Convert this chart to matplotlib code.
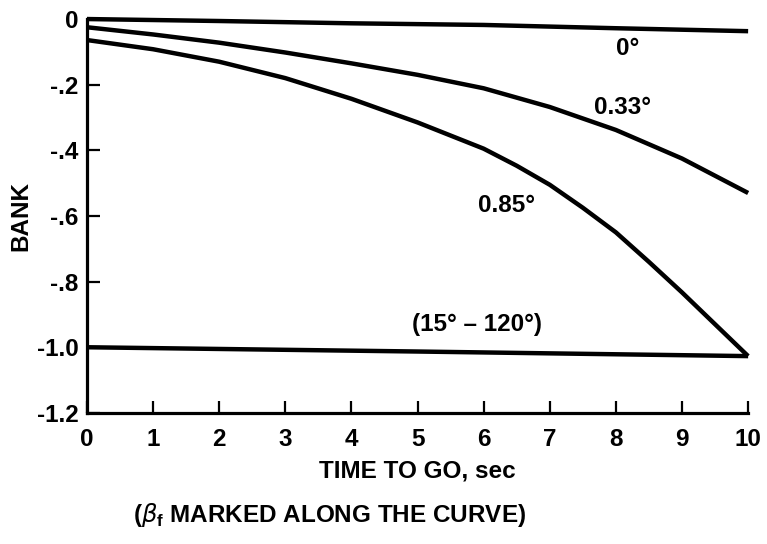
import matplotlib
matplotlib.use("Agg")
import matplotlib.pyplot as plt

plt.rcParams['font.family'] = ['Liberation Sans', 'DejaVu Sans']

# Courbes (temps restant en s, bank)
t_0 = [0, 2, 4, 6, 8, 10]
bank_0 = [0.0, -0.006, -0.013, -0.018, -0.028, -0.037]

t_033 = [0, 1, 2, 3, 4, 5, 6, 7, 8, 9, 10]
bank_033 = [-0.025, -0.047, -0.072, -0.102, -0.135, -0.170, -0.211, -0.268, -0.338, -0.425, -0.530]

t_085 = [0, 1, 2, 3, 4, 5, 6, 6.5, 7, 7.5, 8, 8.5, 9, 9.5, 10]
bank_085 = [-0.064, -0.092, -0.130, -0.180, -0.243, -0.315, -0.395, -0.447, -0.505,
            -0.575, -0.650, -0.740, -0.833, -0.930, -1.027]

t_15 = [0, 5, 10]
bank_15 = [-1.0, -1.013, -1.027]

x_ticks = list(range(0, 11))
y_ticks = [0, -0.2, -0.4, -0.6, -0.8, -1.0, -1.2]
y_labels = ["0", "-.2", "-.4", "-.6", "-.8", "-1.0", "-1.2"]

fig = plt.figure(figsize=(7.67, 5.44), dpi=100)
ax = fig.add_axes([0.1134, 0.241, 0.862, 0.724])

lw = 3.2
for t, b in [(t_0, bank_0), (t_033, bank_033), (t_085, bank_085), (t_15, bank_15)]:
    ax.plot(t, b, color="black", lw=lw, solid_capstyle="butt",
            solid_joinstyle="round", clip_on=False)

ax.set_xlim(0, 10)
ax.set_ylim(-1.2, 0)
for s in ["top", "right"]:
    ax.spines[s].set_visible(False)
for s in ["left", "bottom"]:
    ax.spines[s].set_linewidth(2.3)

fs = 17.5
ax.set_xticks(x_ticks)
ax.set_yticks(y_ticks)
ax.set_yticklabels(y_labels)
ax.tick_params(direction="in", length=9, width=1.6, labelsize=fs)
ax.tick_params(axis="x", pad=11)
ax.tick_params(axis="y", pad=6)
for lab in ax.get_xticklabels() + ax.get_yticklabels():
    lab.set_fontweight("bold")

ax.set_ylabel("BANK", fontsize=fs, fontweight="bold", labelpad=3)
ax.set_xlabel("TIME TO GO, sec", fontsize=fs, fontweight="bold", labelpad=6)

tkw = dict(fontsize=fs, fontweight="bold", ha="center", va="center")
ax.text(8.17, -0.089, "0°", **tkw)
ax.text(8.1, -0.27, "0.33°", **tkw)
ax.text(6.35, -0.567, "0.85°", **tkw)
ax.text(5.9, -0.932, "(15° – 120°)", **tkw)

fig.text(133 / 767, 1 - 515 / 544, r"($\beta_\mathregular{f}$ MARKED ALONG THE CURVE)",
         fontsize=fs, fontweight="bold", ha="left", va="center")

fig.savefig("out.png", dpi=100)
